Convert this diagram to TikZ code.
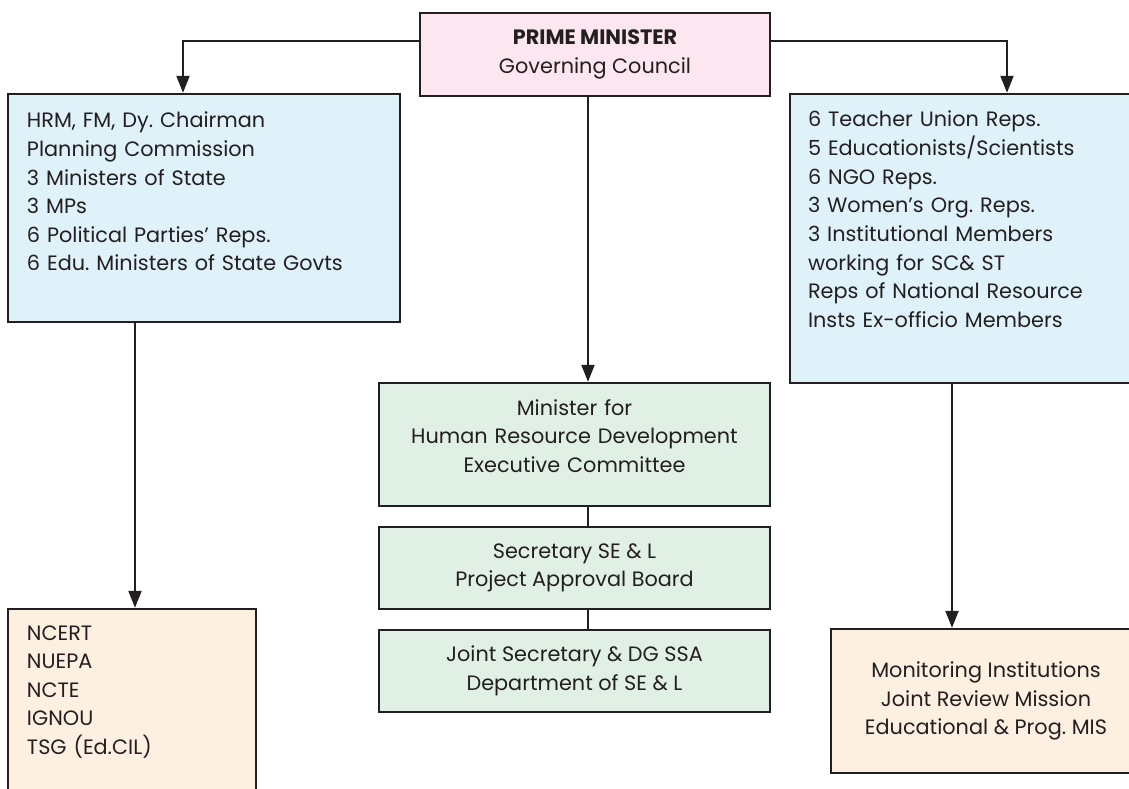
\documentclass[tikz,border=0pt]{standalone}
\usepackage{fontspec}
\setmainfont{Poppins}
\usetikzlibrary{arrows.meta}
\frenchspacing

\definecolor{inkgray}{HTML}{231F20}
\definecolor{pmpink}{HTML}{FCE6EF}
\definecolor{bodyblue}{HTML}{DFF2FA}
\definecolor{execgreen}{HTML}{E0F0E5}
\definecolor{instpeach}{HTML}{FDF0E1}

\tikzset{
  orgbox/.style={draw=inkgray, line width=2.4pt, text=inkgray, inner ysep=0pt,
    font=\fontsize{20.8}{28.6}\selectfont},
  link/.style={draw=inkgray, line width=2.2pt},
}

\begin{document}
\begin{tikzpicture}[x=1pt, y=-1pt, >={Triangle[length=17pt,width=13pt]}]
    \useasboundingbox (0,0) rectangle (1129,789);
    \clip (0,0) rectangle (1129,789);
    % top
    \node[orgbox, fill=pmpink, minimum width=350pt, minimum height=83pt, align=center] (pm) at (595,54.5) {\textbf{PRIME MINISTER}\\Governing Council};
    % side bodies
    \node[orgbox, fill=bodyblue, inner xsep=19pt, text width=354pt, text height=34pt, text depth=194pt, align=left] (govbody) at (204,208) {HRM, FM, Dy. Chairman\\Planning Commission\\3 Ministers of State\\3 MPs\\6 Political Parties' Reps.\\6 Edu. Ministers of State Govts};
    \node[orgbox, fill=bodyblue, inner xsep=18pt, text width=398pt, text height=33pt, text depth=256pt, align=left] (members) at (1007,238.5) {6 Teacher Union Reps.\\5 Educationists/Scientists\\6 NGO Reps.\\3 Women's Org. Reps.\\3 Institutional Members\\working for SC\& ST\\Reps of National Resource\\Insts Ex-officio Members};
    % executive chain
    \node[orgbox, fill=execgreen, inner xsep=10pt, text width=371pt, text height=32pt, text depth=91pt, align=center] (exec) at (574.5,444.5) {Minister for\\Human Resource Development\\Executive Committee};
    \node[orgbox, fill=execgreen, minimum width=391pt, minimum height=82pt, align=center] (pab) at (574.5,568) {Secretary SE \& L\\Project Approval Board};
    \node[orgbox, fill=execgreen, minimum width=391pt, minimum height=82pt, align=center] (jsdg) at (574.5,671) {Joint Secretary \& DG SSA\\Department of SE \& L};
    % bottom
    \node[orgbox, fill=instpeach, inner xsep=19pt, text width=210pt, text height=31pt, text depth=170pt, align=left] (nat) at (132,709.5) {NCERT\\NUEPA\\NCTE\\IGNOU\\TSG (Ed.CIL)};
    \node[orgbox, fill=instpeach, minimum width=310pt, minimum height=144pt, align=center] (monitor) at (986,701) {Monitoring Institutions\\Joint Review Mission\\Educational \& Prog. MIS};

    \coordinate (spine) at (588,0);
    \draw[link,->] ([yshift=13.5pt]pm.west) -| ([xshift=-21pt]govbody.north);
    \draw[link,->] ([yshift=13.5pt]pm.east) -| (members.north);
    \draw[link,->] (pm.south -| spine) -- (exec.north -| spine);
    \draw[link] (exec.south -| spine) -- (pab.north -| spine);
    \draw[link] (pab.south -| spine) -- (jsdg.north -| spine);
    \draw[link,->] ([xshift=3pt]govbody.south -| nat.north) -- ([xshift=3pt]nat.north);
    \draw[link,->] ([xshift=-55pt]members.south) -- ([xshift=-55pt]members.south |- monitor.north);
\end{tikzpicture}
\end{document}
